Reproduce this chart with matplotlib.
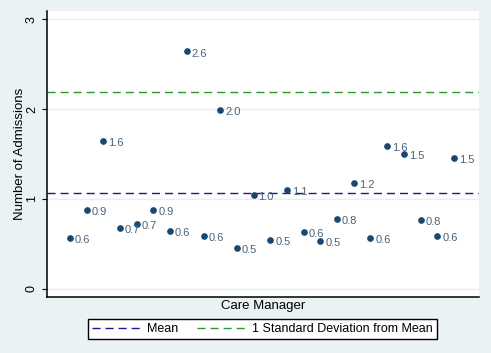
import matplotlib
matplotlib.use("Agg")
import matplotlib.pyplot as plt

plt.rcParams['font.family'] = ['Liberation Sans', 'DejaVu Sans']

# admissions per care manager
managers = list(range(1, 25))
admissions = [0.57, 0.88, 1.64, 0.68, 0.72, 0.88, 0.64, 2.64, 0.59, 1.99, 0.46, 1.04,
              0.54, 1.10, 0.63, 0.53, 0.78, 1.18, 0.57, 1.59, 1.50, 0.77, 0.59, 1.46]
mean_val = 1.063
sd_line = 2.19
yticks = [0, 1, 2, 3]

bg = '#eaf2f3'
navy = '#1a476f'

fig = plt.figure(figsize=(4.91, 3.53), dpi=100, facecolor=bg)
ax = fig.add_axes([47 / 491, 56 / 353, 432 / 491, 286 / 353])
ax.set_facecolor('white')

ax.axhline(mean_val, color='#1a1a8c', lw=1, ls=(0, (5.8, 3.6)), label='Mean')
ax.axhline(sd_line, color='#2a9a2a', lw=1, ls=(0, (5.8, 3.6)),
           label='1 Standard Deviation from Mean')

ax.plot(managers, admissions, 'o', color=navy, ms=3.8, zorder=3)
for x, y in zip(managers, admissions):
    ax.annotate(f"{y:.1f}", (x, y), xytext=(3.5, -1.5), textcoords='offset points',
                va='center', ha='left', fontsize=8, color='#4a6278')

ax.set_xlim(-0.38, 25.5)
ax.set_ylim(-0.09, 3.09)
ax.set_yticks(yticks)
ax.set_yticklabels([str(t) for t in yticks], rotation=90, va='center', fontsize=9)
ax.set_xticks([])
ax.grid(axis='y', color='#e6eef0', lw=1)
ax.set_axisbelow(True)
ax.tick_params(axis='y', length=3.6, width=0.8, pad=3)

for s in ['top', 'right']:
    ax.spines[s].set_visible(False)
for s in ['left', 'bottom']:
    ax.spines[s].set_linewidth(1.1)
    ax.spines[s].set_color('black')

fig.text(20 / 491, 1 - 154 / 353, "Number of Admissions", rotation=90,
         ha='center', va='center', fontsize=9.5)
ax.set_xlabel("Care Manager", fontsize=9.5, labelpad=2)

leg = fig.legend(loc='center', bbox_to_anchor=(262.5 / 491, 1 - 329 / 353), ncol=2,
                 fontsize=9, frameon=True, fancybox=False, handlelength=3.8,
                 columnspacing=1.5, borderpad=0.35, handletextpad=0.6)
leg.get_frame().set_edgecolor('black')
leg.get_frame().set_linewidth(1)
leg.get_frame().set_alpha(1)

fig.savefig("out.png", dpi=100, facecolor=bg)
